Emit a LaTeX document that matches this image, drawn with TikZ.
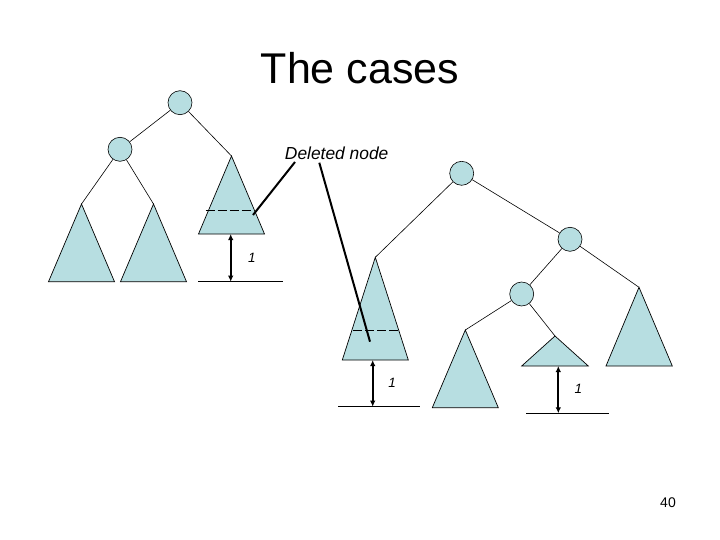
\documentclass[tikz,border=0pt]{standalone}
\usepackage{fontspec}
\setmainfont{Liberation Sans}
\usetikzlibrary{arrows.meta}
\definecolor{tfill}{RGB}{183,222,225}
\tikzset{
  tnode/.style={circle,draw=black,fill=tfill,minimum size=24pt,inner sep=0pt,line width=0.6pt},
  tri/.style={draw=black,fill=tfill,line width=0.7pt,line join=miter},
  edge/.style={draw=black,line width=0.6pt},
  dline/.style={draw=black,line width=0.8pt,dash pattern=on 9pt off 3pt},
  hgt/.style={draw=black,line width=2.2pt,{Latex[length=6pt,width=5.5pt]}-{Latex[length=6pt,width=5.5pt]}},
  base/.style={draw=black,line width=0.8pt},
  ptr/.style={draw=black,line width=2pt},
  onelab/.style={font=\fontsize{13.5}{15}\selectfont\itshape,inner sep=0pt}
}
\begin{document}
\begin{tikzpicture}[x=1pt,y=-1pt]
\useasboundingbox (0,0) rectangle (720,540);
% title
\node[font=\fontsize{43}{50}\selectfont] (title) at (360,68) {The cases};
% ---------- left tree ----------
\node[tnode] (r1) at (180,102.7) {};
\node[tnode] (c1) at (120,149.3) {};
\coordinate (a1) at (81.5,204);
\coordinate (a2) at (153.5,204);
\coordinate (a3) at (231.5,156);
\draw[tri] (a1) -- (114.5,281.7) -- (48.5,281.7) -- cycle;
\draw[tri] (a2) -- (186.5,281.7) -- (120.5,281.7) -- cycle;
\draw[tri] (a3) -- (264.5,234) -- (198.5,234) -- cycle;
\draw[edge] (r1) -- (c1);
\draw[edge] (r1) -- (a3);
\draw[edge] (c1) -- (a1);
\draw[edge] (c1) -- (a2);
\coordinate (d1l) at (205.7,210.7);
\coordinate (d1r) at (253.3,210.7);
\draw[dline] (d1l) -- (d1r);
\coordinate (h1t) at (230.7,234);
\coordinate (h1b) at (230.7,281.7);
\draw[hgt] (h1t) -- (h1b);
\coordinate (b1l) at (198.3,281.7);
\coordinate (b1r) at (282.7,281.7);
\draw[base] (b1l) -- (b1r);
\node[onelab] (l1) at (252,258.3) {1};
% ---------- deleted node label ----------
\node[font=\fontsize{17.4}{20}\selectfont\itshape,inner sep=0pt] (del) at (336.7,153.3) {Deleted node};
\coordinate (p1s) at (295,162);
\coordinate (p1e) at (253,215);
\coordinate (p2s) at (319.3,162.7);
\coordinate (p2e) at (370,341.7);
% ---------- right tree ----------
\node[tnode] (r2) at (461.7,173.3) {};
\node[tnode] (c2) at (570,239.3) {};
\node[tnode] (c3) at (521.7,294) {};
\coordinate (m1) at (375.3,257.3);
\coordinate (m2) at (465.3,330);
\coordinate (m3) at (555,336);
\coordinate (m4) at (639,287.3);
\draw[tri] (m1) -- (408.3,360) -- (342.3,360) -- cycle;
\draw[tri] (m2) -- (498.3,407.7) -- (432.3,407.7) -- cycle;
\draw[tri] (m3) -- (588.3,366) -- (521.7,366) -- cycle;
\draw[tri] (m4) -- (672.3,366) -- (606,366) -- cycle;
\draw[edge] (r2) -- (m1);
\draw[edge] (r2) -- (c2);
\draw[edge] (c2) -- (c3);
\draw[edge] (c2) -- (m4);
\draw[edge] (c3) -- (m2);
\draw[edge] (c3) -- (m3);
\coordinate (d2l) at (353.3,330.7);
\coordinate (d2r) at (398.3,330.7);
\draw[dline] (d2l) -- (d2r);
\coordinate (h2t) at (372.7,360);
\coordinate (h2b) at (372.7,406.7);
\draw[hgt] (h2t) -- (h2b);
\coordinate (b2l) at (338.3,406.7);
\coordinate (b2r) at (419.5,406.7);
\draw[base] (b2l) -- (b2r);
\node[onelab] (l2) at (392,383.3) {1};
\coordinate (h3t) at (558.3,366);
\coordinate (h3b) at (558.3,413.3);
\draw[hgt] (h3t) -- (h3b);
\coordinate (b3l) at (526,413.3);
\coordinate (b3r) at (609.3,413.3);
\draw[base] (b3l) -- (b3r);
\node[onelab] (l3) at (578.3,389.3) {1};
% pointers
\draw[ptr] (p1s) -- (p1e);
\draw[ptr] (p2s) -- (p2e);
% page number
\node[font=\fontsize{14}{16}\selectfont] (pg) at (668,503) {40};
\end{tikzpicture}
\end{document}
